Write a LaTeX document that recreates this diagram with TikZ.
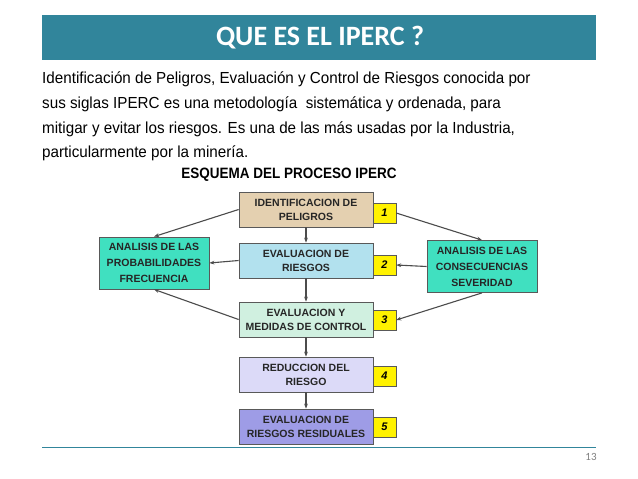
\documentclass[tikz,border=0pt]{standalone}
\usepackage{fontspec}
\setmainfont{Liberation Sans}
\newfontfamily\titlefont{Carlito}
\usetikzlibrary{arrows.meta}
\definecolor{teal1}{RGB}{49,133,155}
\tikzset{
 box/.style={draw=gray!70!black, line width=0.8pt, minimum width=134pt, minimum height=35pt, align=center, font=\bfseries\fontsize{10.5}{14}\selectfont, text=black!85, inner sep=1pt},
 side/.style={draw=gray!70!black, line width=0.8pt, fill={rgb,255:red,64;green,224;blue,192}, minimum width=110pt, minimum height=52pt, align=center, font=\bfseries\fontsize{10.5}{16}\selectfont, text=black!85, inner sep=1pt},
 num/.style={draw=gray!70!black, fill=yellow, minimum width=23pt, minimum height=20pt, font=\bfseries\itshape\fontsize{11}{12}\selectfont},
 arr/.style={-{Stealth[length=5pt]}, line width=1.1pt, draw=black!70},
 body/.style={anchor=west, font=\fontsize{16}{18}\selectfont, inner sep=0}
}
\begin{document}
\begin{tikzpicture}[x=1pt,y=-1pt]
\useasboundingbox (0,0) rectangle (638,479);
\fill[white] (0,0) rectangle (638,479);
\fill[teal1] (42,15) rectangle (596,60);
\node[text=white, font=\titlefont\bfseries\fontsize{28}{30}\selectfont] (title) at (320,38) {QUE ES EL IPERC ?};
\node[body] (l1) at (42,79) {\addfontfeature{FakeStretch=0.95}Identificación de Peligros, Evaluación y Control de Riesgos conocida por};
\node[body] (l2) at (42,104) {\addfontfeature{FakeStretch=0.95}sus siglas IPERC es una metodología\ \ sistemática y ordenada, para};
\node[body] (l3) at (42,129) {\addfontfeature{FakeStretch=0.95}mitigar y evitar los riesgos. Es una de las más usadas por la Industria,};
\node[body] (l4) at (42,153) {\addfontfeature{FakeStretch=0.95}particularmente por la minería.};
\node[font=\bfseries\fontsize{15}{17}\selectfont] (esq) at (289,175) {\addfontfeature{FakeStretch=0.9}ESQUEMA DEL PROCESO IPERC};
\node[box, fill={rgb,255:red,228;green,208;blue,176}] (b1) at (306,209.5) {IDENTIFICACION DE\\PELIGROS};
\node[box, fill={rgb,255:red,178;green,225;blue,238}] (b2) at (306,260.5) {EVALUACION DE\\RIESGOS};
\node[box, fill={rgb,255:red,208;green,240;blue,224}] (b3) at (306,319.5) {EVALUACION Y\\MEDIDAS DE CONTROL};
\node[box, fill={rgb,255:red,220;green,218;blue,248}] (b4) at (306,374.5) {REDUCCION DEL\\RIESGO};
\node[box, fill={rgb,255:red,158;green,156;blue,230}] (b5) at (306,426.5) {EVALUACION DE\\RIESGOS RESIDUALES};
\foreach \i/\y in {1/213,2/265,3/320,4/376,5/427}{
 \node[num] (n\i) at (384.5,\y) {\i};
}
\node[side] (L) at (154,263) {ANALISIS DE LAS\\PROBABILIDADES\\FRECUENCIA};
\node[side] (R) at (482,266.5) {ANALISIS DE LAS\\CONSECUENCIAS\\SEVERIDAD};
\draw[arr] (b1) -- (b2);
\draw[arr] (b2) -- (b3);
\draw[arr] (b3) -- (b4);
\draw[arr] (b4) -- (b5);
\draw[arr] (b1.west) -- (L.north);
\draw[arr] (n1.east) -- (R.north);
\draw[arr] (b2.west) -- (L.east);
\draw[arr] (R.west) -- (n2.east);
\draw[arr] (b3.west) -- (L.south);
\draw[arr] (R.south) -- (n3.east);
\draw[teal1, line width=0.8pt] (42,447) -- (596,447);
\node[text=gray, font=\titlefont\fontsize{11}{12}\selectfont] (pg) at (591,457) {13};
\end{tikzpicture}
\end{document}
